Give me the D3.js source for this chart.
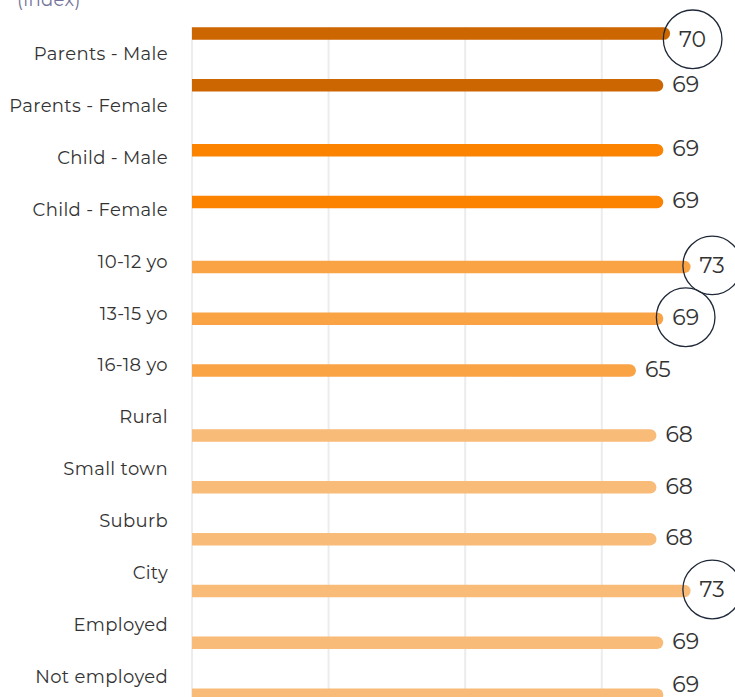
<!DOCTYPE html>
<html>
<head>
<meta charset="utf-8">
<script src="https://cdn.jsdelivr.net/npm/d3@7"></script>
<style>
  html, body { margin: 0; padding: 0; background: #fff; }
  svg { display: block; }
  text { font-family: "Montserrat", "Open Sans", "Noto Sans", sans-serif; }
</style>
</head>
<body>
<svg id="chart" width="735" height="697"></svg>
<script>
// ---- data ----
const categories = ["Parents - Male", "Parents - Female", "Child - Male", "Child - Female",
  "10-12 yo", "13-15 yo", "16-18 yo", "Rural", "Small town", "Suburb", "City",
  "Employed", "Not employed"];
const values = [70, 69, 69, 69, 73, 69, 65, 68, 68, 68, 73, 69, 69];
const groups = [0, 0, 1, 1, 2, 2, 2, 3, 3, 3, 3, 3, 3];
const highlighted = [true, false, false, false, true, true, false, false, false, false, true, false, false];
const groupColors = ["#cc6600", "#fb8300", "#f9a345", "#f9bb78"];
const gridTicks = [0, 20, 40, 60, 80];
const unitLabel = "(index)";

// ---- layout ----
const W = 735, H = 697;
const svg = d3.select("#chart");
const x = d3.scaleLinear().domain([0, 100]).range([192, 875]);
const n = categories.length;
const step = 51.85;
const yLabel = d3.scaleLinear().domain([0, n - 1]).range([54, 54 + step * (n - 1)]);
const groupGap = 13;
const barOffset = -20.5;
const yBar = i => yLabel(i) + barOffset + groupGap * groups[i];
const barH = 12.5;
const circleR = 29.3;

// grid lines
svg.append("g").selectAll("line").data(gridTicks).join("line")
  .attr("x1", d => x(d)).attr("x2", d => x(d))
  .attr("y1", 27).attr("y2", H)
  .attr("stroke", "#ececec").attr("stroke-width", 2);

// unit label
svg.append("text").attr("x", 17).attr("y", 6)
  .attr("font-size", 18).attr("letter-spacing", 0.35)
  .attr("fill", "#74749a").text(unitLabel);

// category labels
svg.append("g").selectAll("text").data(categories).join("text")
  .attr("x", 168).attr("y", (d, i) => yLabel(i))
  .attr("dy", "0.35em")
  .attr("text-anchor", "end")
  .attr("font-size", 18)
  .attr("letter-spacing", 0.35)
  .attr("fill", "#333333")
  .text(d => d);

// bars: square left end, rounded right end
function barPath(i) {
  const x0 = x(0), x1 = x(values[i]);
  const yc = yBar(i), h = barH, r = h / 2;
  return `M${x0},${yc - r} L${x1 - r},${yc - r} A${r},${r} 0 0 1 ${x1 - r},${yc + r} L${x0},${yc + r} Z`;
}
svg.append("g").selectAll("path").data(values).join("path")
  .attr("d", (d, i) => barPath(i))
  .attr("fill", (d, i) => groupColors[groups[i]]);

// value labels (kept inside the visible frame)
const valY = i => Math.min(Math.max(yBar(i) - 1.5, circleR + 10), H - 12.5);
const valueText = svg.append("g").selectAll("text").data(values).join("text")
  .attr("x", (d, i) => x(d) + 9)
  .attr("y", (d, i) => valY(i))
  .attr("dy", "0.35em")
  .attr("font-size", 22)
  .attr("fill", "#333333")
  .text(d => d);

// highlight circles around selected values
valueText.each(function (d, i) {
  if (!highlighted[i]) return;
  const bb = this.getBBox();
  svg.append("circle")
    .attr("cx", bb.x + bb.width / 2)
    .attr("cy", valY(i))
    .attr("r", circleR)
    .attr("fill", "none")
    .attr("stroke", "#1e2838")
    .attr("stroke-width", 1.3);
});
</script>
</body>
</html>
